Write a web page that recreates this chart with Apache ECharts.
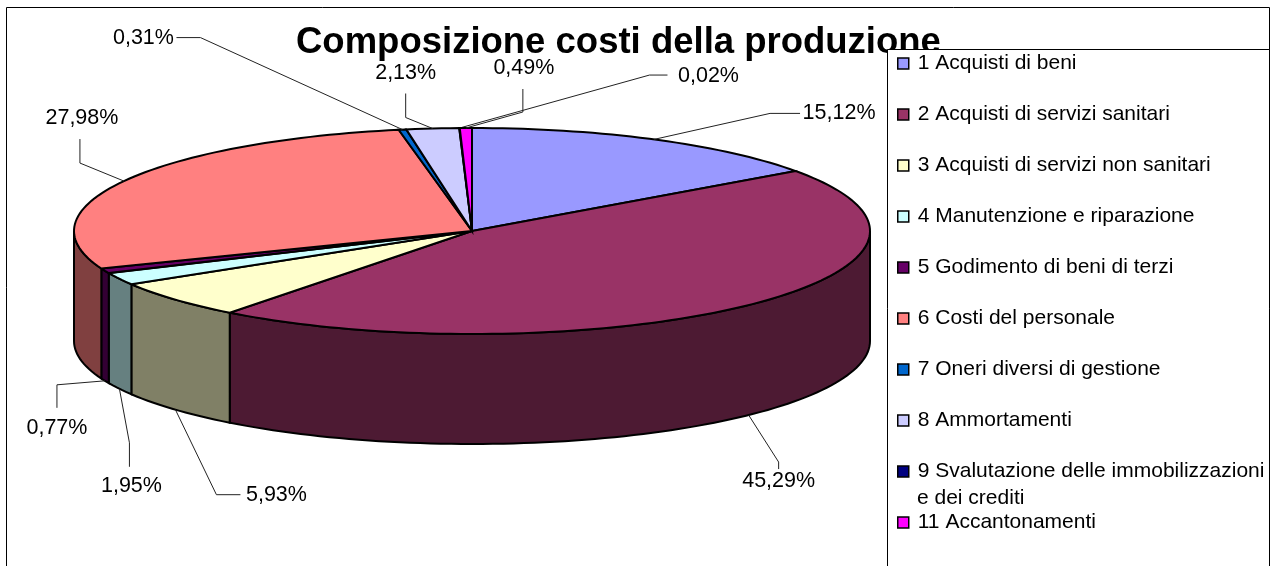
<!DOCTYPE html>
<html lang="it">
<head>
<meta charset="utf-8">
<title>Composizione costi della produzione</title>
<script src="https://cdn.jsdelivr.net/npm/echarts@6/dist/echarts.min.js"></script>
<style>
    html,body{margin:0;padding:0;background:#fff;overflow:hidden;}
    #chart{width:1273px;height:566px;}
</style>
</head>
<body>
<div id="chart"></div>
<script>
var categories = ['1 Acquisti di beni','2 Acquisti di servizi sanitari','3 Acquisti di servizi non sanitari','4 Manutenzione e riparazione','5 Godimento di beni di terzi','6 Costi del personale','7 Oneri diversi di gestione','8 Ammortamenti','9 Svalutazione delle immobilizzazioni','11 Accantonamenti'];
var values = [15.12,45.29,5.93,1.95,0.77,27.98,0.31,2.13,0.02,0.49];
var colors = ['#9999FF','#993366','#FFFFCC','#CCFFFF','#660066','#FF8080','#0066CC','#CCCCFF','#000080','#FF00FF'];

// leader bends and label centre, as offsets from the point on the rim
var leaderBends = [[[116,-26],[146,-26]],[[30,47],[30,54]],[[41,85],[65,85]],[[10,54],[10,78]],[[-48,4],[-48,27]],[[-44,-18],[-44,-42]],[[-202,-92],[-226,-92]],[[-27,-11],[-27,-35]],[[190,-53],[208,-53]],[[57,-16],[57,-39]]];
var labelOffsets = [[185,-26],[30,66],[101,85],[12,97],[-48,47],[-42,-63],[-259,-92],[-27,-55],[249,-52],[58,-60]];

var cx = 472, cy = 231, rx = 398, ry = 103, depth = 110;
var total = values.reduce(function(a,b){return a+b;},0);
var labelFont = '21.5px "Liberation Sans"';

function rim(deg,drop){
    var r = deg*Math.PI/180;
    return [cx+rx*Math.sin(r), cy-ry*Math.cos(r)+(drop||0)];
}
function arc(from,to,drop){
    var pts = [], n = Math.max(1,Math.ceil((to-from)/1.5));
    for(var i=0;i<=n;i++){
        pts.push(rim(from+(to-from)*i/n,drop));
    }
    return pts;
}
function darker(hex){
    var n = parseInt(hex.slice(1),16);
    return 'rgb('+(n>>16&255)/2+','+(n>>8&255)/2+','+(n&255)/2+')';
}

var sum = 0;
var series = categories.map(function(name,i){
    var start = sum/total*360;
    sum += values[i];
    var end = sum/total*360;
    return {
        type:'custom',
        name:name,
        coordinateSystem:'none',
        silent:true,
        data:[[start,end,i]],
        renderItem:function(params,api){
            var a = api.value(0), b = api.value(1), k = api.value(2);
            var children = [];
            // side wall, only the part facing the viewer
            var wa = Math.max(a,90), wb = Math.min(b,270);
            if(wb>wa){
                children.push({type:'polygon',shape:{points:arc(wa,wb,0).concat(arc(wa,wb,depth).reverse())},
                    style:{fill:darker(colors[k]),stroke:'#000',lineWidth:2}});
            }
            children.push({type:'polygon',shape:{points:[[cx,cy]].concat(arc(a,b,0))},
                style:{fill:colors[k],stroke:'#000',lineWidth:2}});
            var mid = (a+b)/2;
            var anchor = rim(mid,(mid>90&&mid<270)?depth:0);
            var line = [anchor].concat(leaderBends[k].map(function(o){return [anchor[0]+o[0],anchor[1]+o[1]];}));
            children.push({type:'polyline',shape:{points:line},style:{fill:null,stroke:'#222',lineWidth:1}});
            children.push({type:'text',style:{x:anchor[0]+labelOffsets[k][0],y:anchor[1]+labelOffsets[k][1],
                text:values[k].toFixed(2).replace('.',',')+'%',font:labelFont,fill:'#000',align:'center',verticalAlign:'middle'}});
            return {type:'group',children:children};
        }
    };
});

var chart = echarts.init(document.getElementById('chart'),null,{renderer:'canvas'});
chart.setOption({
    animation:false,
    backgroundColor:'#fff',
    title:{
        text:'Composizione costi della produzione',
        left:296,top:24,padding:0,z:1,
        textStyle:{fontFamily:'Liberation Sans',fontWeight:'bold',fontSize:36.5,color:'#000'}
    },
    legend:{
        orient:'vertical',left:897,top:53,padding:0,
        itemWidth:11,itemHeight:11,itemGap:30,
        selectedMode:false,z:20,
        textStyle:{fontFamily:'Liberation Sans',fontSize:21,color:'#000',padding:[0,0,0,4]},
        data:categories.map(function(name,i){
            return {name:name,icon:'rect',itemStyle:{color:colors[i],borderColor:'#000',borderWidth:1.5}};
        })
    },
    graphic:[
        {type:'rect',z:0,silent:true,shape:{x:6.5,y:7.5,width:1263,height:600},style:{fill:'#fff',stroke:'#000',lineWidth:1}},
        {type:'rect',z:10,silent:true,shape:{x:887.5,y:49.5,width:382,height:560},style:{fill:'#fff',stroke:'#000',lineWidth:1}},
        {type:'text',z:20,silent:true,style:{x:917,y:498,text:'e dei crediti',font:'21px "Liberation Sans"',fill:'#000',verticalAlign:'middle'}}
    ],
    series:series
});
</script>
</body>
</html>
